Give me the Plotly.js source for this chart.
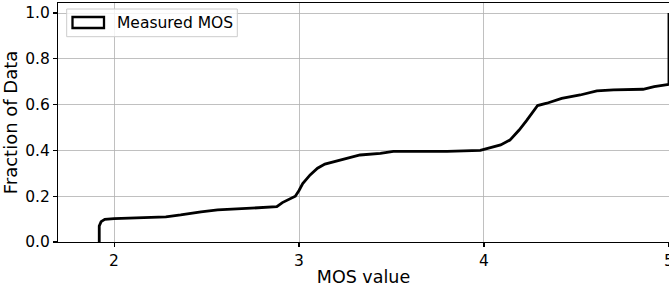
<!DOCTYPE html>
<html>
<head>
<meta charset="utf-8">
<script src="https://cdn.plot.ly/plotly-3.0.1.min.js"></script>
<style>html,body{margin:0;padding:0;background:#fff;}#chart{width:669px;height:287px;}</style>
</head>
<body>
<div id="chart"></div>
<script>
const mosValues = [1.92, 1.92, 1.93, 1.95, 2.0, 2.1, 2.2, 2.28, 2.36, 2.47, 2.56, 2.65, 2.75, 2.88, 2.91, 2.95, 2.98, 3.0, 3.02, 3.06, 3.10, 3.14, 3.20, 3.26, 3.33, 3.44, 3.51, 3.65, 3.80, 3.98, 4.01, 4.05, 4.09, 4.14, 4.19, 4.23, 4.26, 4.29, 4.34, 4.42, 4.52, 4.61, 4.70, 4.86, 4.92, 5.0, 5.0];
const fractions = [0, 0.07, 0.089, 0.099, 0.102, 0.105, 0.108, 0.11, 0.118, 0.132, 0.14, 0.144, 0.148, 0.154, 0.172, 0.186, 0.20, 0.225, 0.255, 0.293, 0.322, 0.34, 0.352, 0.365, 0.38, 0.387, 0.396, 0.396, 0.396, 0.40, 0.406, 0.414, 0.424, 0.445, 0.489, 0.53, 0.565, 0.596, 0.606, 0.627, 0.642, 0.66, 0.664, 0.667, 0.678, 0.688, 1.0];
const xTicks = [2, 3, 4, 5];
const yTicks = [0, 0.2, 0.4, 0.6, 0.8, 1.0];
const yTickLabels = ["0.0", "0.2", "0.4", "0.6", "0.8", "1.0"];
const seriesName = "Measured MOS";

const W = 669, H = 287, L = 58, R = 0, T = 3, B = 45;
const pw = W - L - R, ph = H - T - B;
const px = v => (v - L) / pw;
const py = v => (H - B - v) / ph;
const font = "DejaVu Sans, Arial, sans-serif";

const trace = {
  x: mosValues, y: fractions, type: 'scatter', mode: 'lines',
  name: seriesName, showlegend: false,
  line: {color: '#000', width: 2.8, shape: 'linear'},
  hoverinfo: 'skip'
};

const axisCommon = {
  showgrid: true, gridcolor: '#b0b0b0', gridwidth: 0.8,
  zeroline: false, showline: true, linecolor: '#000', linewidth: 1.1,
  mirror: true, ticks: 'outside', ticklen: 4, tickwidth: 1.1, tickcolor: '#000',
  ticklabeloverflow: 'allow',
  tickfont: {family: font, size: 15.5, color: '#000'}
};

const layout = {
  width: W, height: H,
  margin: {l: L, r: R, t: T, b: B, pad: 0},
  paper_bgcolor: '#fff', plot_bgcolor: '#fff',
  showlegend: false,
  xaxis: Object.assign({}, axisCommon, {
    range: [1.697, 5.0002], tickvals: xTicks, ticktext: xTicks.map(String),
    title: {text: 'MOS value', font: {family: font, size: 17.5, color: '#000'}, standoff: 4}
  }),
  yaxis: Object.assign({}, axisCommon, {
    range: [0, 1.0437], tickvals: yTicks, ticktext: yTickLabels,
    title: {text: 'Fraction of Data', font: {family: font, size: 18, color: '#000'}, standoff: 3}
  }),
  shapes: [
    {type: 'rect', xref: 'paper', yref: 'paper', x0: px(66.7), x1: px(237.3), y0: py(36.7), y1: py(9),
     line: {color: '#cccccc', width: 1}, fillcolor: 'rgba(255,255,255,0.8)', layer: 'above'},
    {type: 'rect', xref: 'paper', yref: 'paper', x0: px(72.5), x1: px(104), y0: py(28), y1: py(17),
     line: {color: '#000', width: 2.3}, fillcolor: '#fff', layer: 'above'}
  ],
  annotations: [
    {text: seriesName, xref: 'paper', yref: 'paper', x: px(115), y: py(22.8),
     xanchor: 'left', yanchor: 'middle', showarrow: false,
     font: {family: font, size: 15.5, color: '#000'}}
  ]
};

Plotly.newPlot('chart', [trace], layout, {staticPlot: true, displayModeBar: false});
</script>
</body>
</html>
